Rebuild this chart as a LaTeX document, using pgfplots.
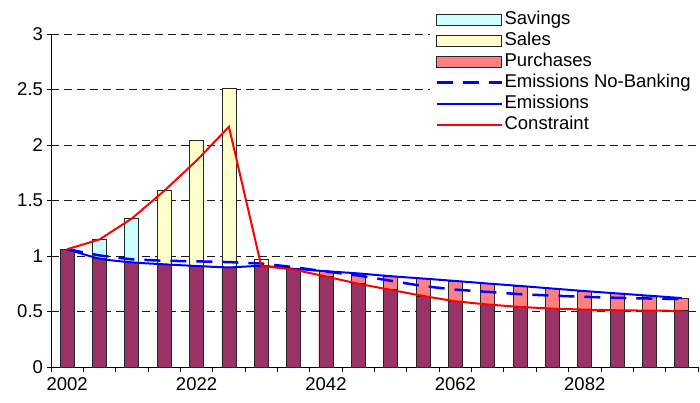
\documentclass[border=0pt]{standalone}
\usepackage{fontspec}
\setmainfont{Liberation Sans}
\usepackage{pgfplots}
\pgfplotsset{compat=1.18}
\definecolor{maroon}{HTML}{993366}
\definecolor{savc}{HTML}{CCFFFF}
\definecolor{salc}{HTML}{FFFFCC}
\definecolor{purc}{HTML}{FF8080}
\pgfplotsset{
  barleg/.style={legend image code/.code={\draw[##1] (0pt,-5.3pt) rectangle (65pt,5.3pt);}},
  lineleg/.style={legend image code/.code={\draw[##1] (0pt,0pt) -- (65pt,0pt);}},
  mybar/.style={ybar, bar width=14pt, bar shift=0pt, draw=black!85, line width=0.8pt},
}
\begin{document}
\begin{tikzpicture}
\useasboundingbox (-51pt,-35pt) rectangle (649pt,367pt);
\begin{axis}[
  at={(0pt,0pt)}, anchor=south west,
  scale only axis, width=647pt, height=333pt,
  xmin=1999.5, xmax=2099.5, ymin=0, ymax=3,
  axis x line*=bottom, axis y line*=left,
  axis line style={-, black, line width=0.9pt},
  xtick={1999.5,2004.5,2009.5,2014.5,2019.5,2024.5,2029.5,2034.5,2039.5,2044.5,2049.5,2054.5,2059.5,2064.5,2069.5,2074.5,2079.5,2084.5,2089.5,2094.5,2099.5},
  xticklabels={},
  extra x ticks={2002,2022,2042,2062,2082},
  extra x tick labels={2002,2022,2042,2062,2082},
  extra x tick style={major tick length=0pt, grid=none},
  xticklabel shift=7pt,
  ytick={0,0.5,1,1.5,2,2.5,3},
  tick align=outside, major tick length=4.5pt,
  tick style={black, line width=0.9pt},
  ymajorgrids, grid style={black!90, line width=0.9pt, dash pattern=on 8pt off 5pt},
  tick label style={font=\fontsize{18.5}{22}\selectfont},
  /pgf/number format/assume math mode=true,
  legend cell align=left,
  legend style={at={(rel axis cs:0.586,1.090)}, anchor=north west, draw=none, fill=white,
    inner sep=5pt, row sep=0pt, font=\fontsize{18.5}{22}\selectfont,
    nodes={inner sep=1.75pt, text height=13.5pt, text depth=4pt},
    /tikz/every even column/.append style={column sep=7pt}},
]
\addplot[mybar, fill=savc, barleg] coordinates {(2007,1.149) (2012,1.341)};
\addlegendentry{Savings}
\addplot[mybar, fill=salc, barleg] coordinates {(2017,1.587) (2022,2.044) (2027,2.510) (2032,0.971)};
\addlegendentry{Sales}
\addplot[mybar, fill=purc, barleg] coordinates {
 (2037,0.885) (2042,0.863) (2047,0.843) (2052,0.818) (2057,0.797) (2062,0.775)
 (2067,0.752) (2072,0.730) (2077,0.707) (2082,0.684) (2087,0.663) (2092,0.642) (2097,0.621)};
\addlegendentry{Purchases}
\addplot[mybar, fill=maroon, forget plot] coordinates {
 (2002,1.061) (2007,0.977) (2012,0.943) (2017,0.925) (2022,0.910) (2027,0.898)
 (2032,0.910) (2037,0.878) (2042,0.815) (2047,0.750) (2052,0.695) (2057,0.640)
 (2062,0.592) (2067,0.563) (2072,0.541) (2077,0.526) (2082,0.517) (2087,0.511)
 (2092,0.508) (2097,0.506)};
\addplot[blue, line width=2.5pt, dash pattern=on 16pt off 10pt, lineleg] coordinates {
 (2002,1.061) (2007,1.005) (2012,0.970) (2017,0.957) (2022,0.952) (2027,0.945)
 (2032,0.932) (2037,0.900) (2042,0.860) (2047,0.824) (2052,0.777) (2057,0.729)
 (2062,0.697) (2067,0.677) (2072,0.656) (2077,0.643) (2082,0.632) (2087,0.623)
 (2092,0.617) (2097,0.612)};
\addlegendentry{Emissions No-Banking}
\addplot[blue, line width=2pt, smooth, lineleg] coordinates {
 (2002,1.061) (2007,0.977) (2012,0.943) (2017,0.925) (2022,0.910) (2027,0.898)
 (2032,0.910) (2037,0.885) (2042,0.863) (2047,0.843) (2052,0.818) (2057,0.797)
 (2062,0.775) (2067,0.752) (2072,0.730) (2077,0.707) (2082,0.684) (2087,0.663)
 (2092,0.642) (2097,0.621)};
\addlegendentry{Emissions}
\addplot[red, line width=2pt, lineleg] coordinates {
 (2002,1.061) (2007,1.149) (2012,1.338) (2017,1.587) (2022,1.860) (2027,2.164)
 (2032,0.910) (2037,0.878) (2042,0.815) (2047,0.750) (2052,0.695) (2057,0.640)
 (2062,0.592) (2067,0.563) (2072,0.541) (2077,0.526) (2082,0.517) (2087,0.511)
 (2092,0.508) (2097,0.506)};
\addlegendentry{Constraint}
\end{axis}
\end{tikzpicture}
\end{document}
